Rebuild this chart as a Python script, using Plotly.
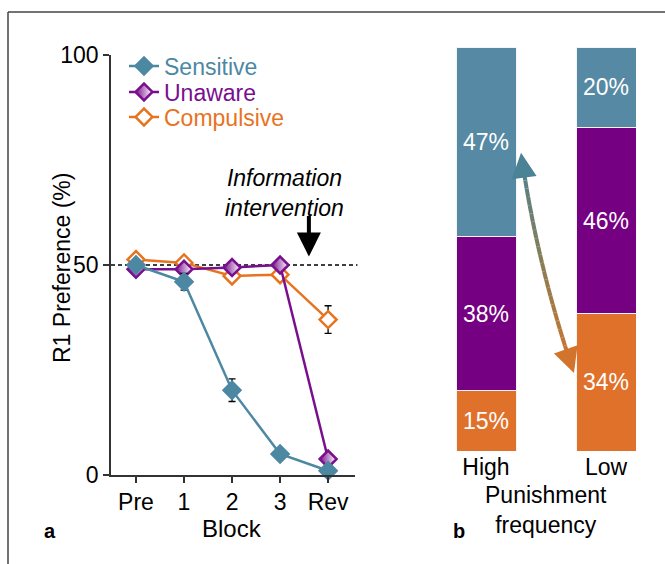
import plotly.graph_objects as go

# ---------------- data ----------------
blocks = ["Pre", "1", "2", "3", "Rev"]
sensitive = [50, 46, 20.2, 5, 1]
sensitive_err = [0.8, 2.0, 2.7, 0.8, 0.6]
unaware = [49, 49, 49.4, 50, 3.8]
unaware_err = [0.6, 0.6, 0.6, 0.6, 0.8]
compulsive = [51.3, 50.5, 47.4, 47.7, 37]
compulsive_err = [0.6, 0.6, 0.6, 0.6, 3.3]

freq_cats = ["High", "Low"]
sens_pct = [47, 20]
unaw_pct = [38, 46]
comp_pct = [15, 34]

# ---------------- styles ----------------
W, H = 665, 564
FONT = "Liberation Sans, Arial, sans-serif"
C_SENS = "#4d88a2"
C_UNAW = "#7a0f8e"
C_COMP = "#e8731f"
B_SENS = "#5689a3"
B_UNAW = "#760082"
B_COMP = "#e0712a"
AX = "#333333"


def px_x(p):
    return p / W


def px_y(p):
    return 1 - p / H


xi = list(range(len(blocks)))
fig = go.Figure()

# drawing order: Compulsive, Unaware, Sensitive (Sensitive on top)
series = [
    ("Compulsive", compulsive, compulsive_err, C_COMP, "white", None, "legend3"),
    ("Unaware", unaware, unaware_err, C_UNAW, C_UNAW, "white", "legend2"),
    ("Sensitive", sensitive, sensitive_err, C_SENS, C_SENS, None, "legend"),
]
for name, vals, err, col, fill, grad, leg in series:
    marker = dict(symbol="diamond", size=13, color=fill, line=dict(color=col, width=2.5))
    if grad:
        marker["gradient"] = dict(type="horizontal", color=grad)
    fig.add_trace(go.Scatter(
        x=xi, y=vals, mode="lines+markers",
        name=f'<span style="color:{col}">{name}</span>',
        line=dict(color=col, width=2.5),
        marker=marker,
        error_y=dict(type="data", array=err, color="black", thickness=1.3, width=3.5),
        cliponaxis=False, xaxis="x", yaxis="y", legend=leg,
    ))

# stacked bars
xb = list(range(len(freq_cats)))
for vals, col in [(comp_pct, B_COMP), (unaw_pct, B_UNAW), (sens_pct, B_SENS)]:
    fig.add_trace(go.Bar(
        x=xb, y=vals, width=0.5, marker=dict(color=col, line=dict(color="#f4f4f4", width=1)),
        text=[f"{v}%" for v in vals], textposition="inside", insidetextanchor="middle",
        textfont=dict(color="white", size=23, family=FONT), textangle=0,
        showlegend=False, xaxis="x2", yaxis="y2", hoverinfo="skip",
    ))

shapes = []
# dashed 50% reference
shapes.append(dict(type="line", xref="x domain", yref="y", x0=0, x1=1.01, y0=50, y1=50,
                   line=dict(color="black", width=1.5, dash="4px,3px"), layer="below"))
# frame border
shapes.append(dict(type="line", xref="paper", yref="paper", x0=px_x(8), x1=1.02,
                   y0=px_y(12), y1=px_y(12), line=dict(color="#444", width=1.5)))
shapes.append(dict(type="line", xref="paper", yref="paper", x0=px_x(8), x1=px_x(8),
                   y0=px_y(12), y1=-0.02, line=dict(color="#444", width=1.5)))

# gradient double-headed curved arrow (High sensitive <-> Low compulsive)
P0 = (0.292, 73.8)
P1 = (0.421, 46.5)
P2 = (0.733, 19.3)
stops = [(0.0, (74, 130, 150)), (0.5, (135, 125, 85)), (1.0, (215, 115, 40))]


def col_at(t):
    for (t0, c0), (t1, c1) in zip(stops[:-1], stops[1:]):
        if t <= t1:
            f = (t - t0) / (t1 - t0)
            return "rgb(%d,%d,%d)" % tuple(round(a + (b - a) * f) for a, b in zip(c0, c1))
    return "rgb(%d,%d,%d)" % stops[-1][1]


def bez(t):
    return tuple((1 - t) ** 2 * a + 2 * (1 - t) * t * b + t ** 2 * c for a, b, c in zip(P0, P1, P2))


N = 24
ts = [0.05 + 0.9 * i / N for i in range(N + 1)]
for a, b in zip(ts[:-1], ts[1:]):
    pa, pb = bez(a), bez(b)
    shapes.append(dict(type="line", xref="x2", yref="y2", x0=pa[0], y0=pa[1], x1=pb[0], y1=pb[1],
                       line=dict(color=col_at((a + b) / 2), width=4)))


def txt(x, y, xref, yref, text, size=23, angle=0):
    return dict(x=x, y=y, xref=xref, yref=yref, text=text, showarrow=False,
                xanchor="center", yanchor="middle", textangle=angle,
                font=dict(size=size, family=FONT, color="black"))


annotations = [
    # arrowheads of gradient arrow
    dict(x=P0[0], y=P0[1], xref="x2", yref="y2", ax=3, ay=24, text="", showarrow=True,
         arrowhead=2, arrowwidth=4, arrowsize=1.25, arrowcolor="rgb(74,130,150)"),
    dict(x=P2[0], y=P2[1], xref="x2", yref="y2", ax=-8, ay=-23, text="", showarrow=True,
         arrowhead=2, arrowwidth=4, arrowsize=1.25, arrowcolor="rgb(210,116,44)"),
    # information intervention
    txt(3.1, px_y(193), "x", "paper", "<i>Information<br>intervention</i>"),
    dict(x=3.6, y=52, xref="x", yref="y", ax=0, ay=-42, text="", showarrow=True,
         arrowhead=2, arrowwidth=4, arrowsize=1.2, arrowcolor="black"),
    # axis titles
    txt(px_x(62), px_y(268), "paper", "paper", "R1 Preference (%)", angle=-90),
    txt(2, px_y(528), "x", "paper", "Block", size=24),
    txt(0.5, px_y(510), "x2 domain", "paper", "Punishment<br>frequency"),
    # panel letters
    txt(px_x(50), px_y(531), "paper", "paper", "<b>a</b>", size=20),
    txt(px_x(459), px_y(531), "paper", "paper", "<b>b</b>", size=20),
]


def leg(ypx):
    return dict(x=px_x(124), y=px_y(ypx), xanchor="left", yanchor="middle",
                font=dict(size=23, family=FONT), bgcolor="rgba(0,0,0,0)",
                itemwidth=30, borderwidth=0)


fig.update_layout(
    width=W, height=H, autosize=False,
    margin=dict(l=0, r=0, t=0, b=0, pad=0, autoexpand=False),
    paper_bgcolor="white", plot_bgcolor="white",
    font=dict(family=FONT, size=23, color="black"),
    showlegend=True, barmode="stack",
    legend=leg(66), legend2=leg(92), legend3=leg(117),
    xaxis=dict(domain=[px_x(111), px_x(355)], range=[-0.52, 4.56], automargin=False,
               tickvals=xi, ticktext=blocks, showline=True, linecolor=AX, linewidth=1.5,
               ticks="outside", ticklen=6, tickwidth=1.5, tickcolor=AX,
               showgrid=False, zeroline=False, tickfont=dict(size=23)),
    yaxis=dict(domain=[px_y(475), px_y(55)], range=[0, 100], automargin=False,
               tickvals=[0, 50, 100], showline=True, linecolor=AX, linewidth=1.5,
               ticks="outside", ticklen=6, tickwidth=1.5, tickcolor=AX,
               showgrid=False, zeroline=False, tickfont=dict(size=23)),
    xaxis2=dict(domain=[px_x(456), px_x(636)], range=[-0.25, 1.25], automargin=False,
                tickvals=xb, ticktext=freq_cats, showline=False, ticks="",
                showgrid=False, zeroline=False, tickfont=dict(size=23), anchor="y2"),
    yaxis2=dict(domain=[px_y(451), px_y(47)], range=[0, 100], visible=False,
                automargin=False, anchor="x2"),
    shapes=shapes, annotations=annotations,
)

post = ("document.documentElement.style.margin='0';"
        "document.body.style.margin='0';document.body.style.padding='0';"
        "document.body.style.overflow='hidden';"
        "var gd=document.getElementById('{plot_id}');"
        "gd.style.position='fixed';gd.style.top='0px';gd.style.left='0px';")

fig.write_html("out.html", post_script=post, config={"displayModeBar": False})
